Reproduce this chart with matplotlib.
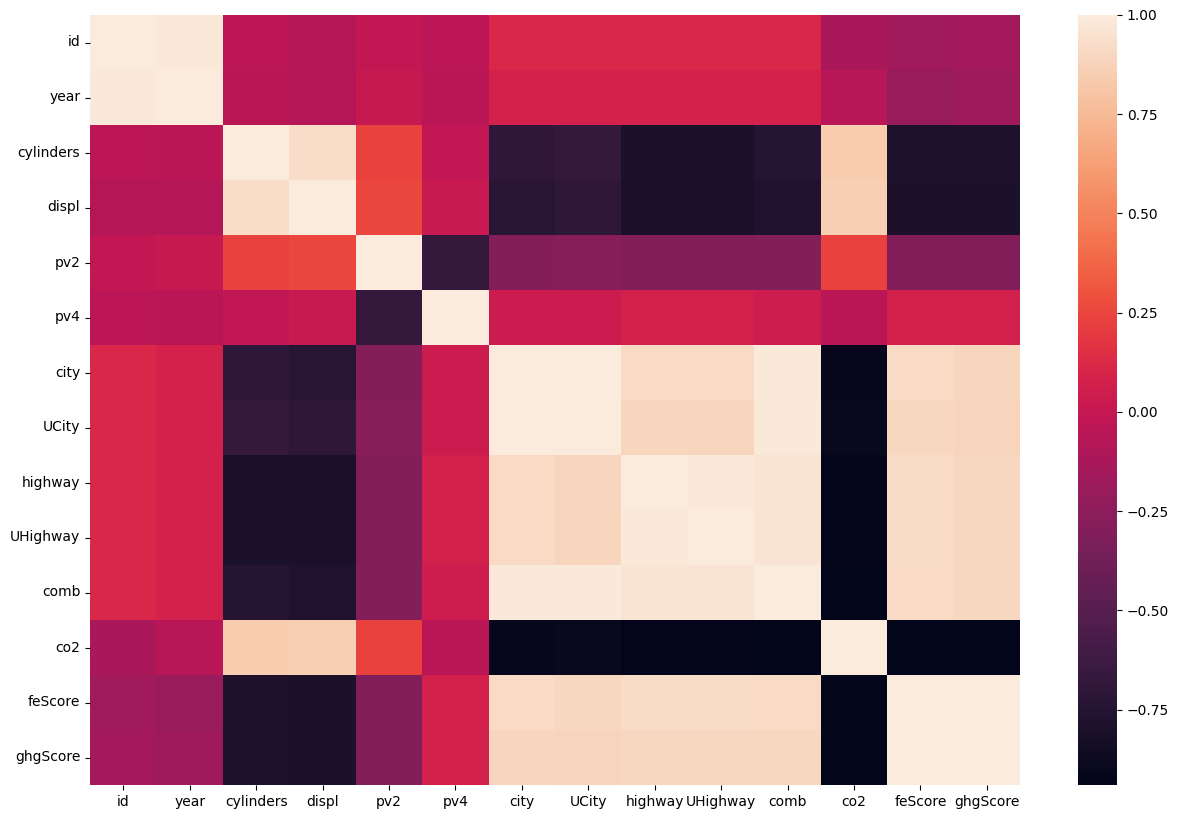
import matplotlib
matplotlib.use("Agg")
import matplotlib.pyplot as plt
import numpy as np
import pandas as pd
import seaborn as sns

columns = ["id", "year", "cylinders", "displ", "pv2", "pv4", "city", "UCity",
           "highway", "UHighway", "comb", "co2", "feScore", "ghgScore"]

# correlation values (upper triangle incl. diagonal, row by row)
corr_rows = [
    [1.00, 0.98, -0.04, -0.08, -0.01, -0.04, 0.11, 0.11, 0.11, 0.11, 0.11, -0.12, -0.16, -0.15],
    [1.00, -0.05, -0.07, 0.01, -0.05, 0.08, 0.08, 0.08, 0.08, 0.08, -0.06, -0.20, -0.18],
    [1.00, 0.93, 0.24, -0.02, -0.70, -0.67, -0.80, -0.80, -0.75, 0.84, -0.79, -0.79],
    [1.00, 0.25, 0.02, -0.73, -0.70, -0.81, -0.81, -0.78, 0.85, -0.80, -0.80],
    [1.00, -0.67, -0.29, -0.28, -0.31, -0.31, -0.30, 0.24, -0.31, -0.31],
    [1.00, 0.03, 0.03, 0.07, 0.07, 0.04, -0.05, 0.07, 0.07],
    [1.00, 0.995, 0.91, 0.91, 0.98, -0.91, 0.91, 0.89],
    [1.00, 0.89, 0.89, 0.98, -0.90, 0.90, 0.88],
    [1.00, 0.98, 0.96, -0.93, 0.92, 0.90],
    [1.00, 0.96, -0.93, 0.92, 0.90],
    [1.00, -0.94, 0.91, 0.90],
    [1.00, -0.94, -0.94],
    [1.00, 0.995],
    [1.00],
]

n = len(columns)
mat = np.zeros((n, n))
for i, row in enumerate(corr_rows):
    for k, v in enumerate(row):
        mat[i, i + k] = v
        mat[i + k, i] = v
corr = pd.DataFrame(mat, index=columns, columns=columns)

fig = plt.figure(figsize=(11.78, 8.19), dpi=100)
ax = fig.add_axes([90 / 1178, 34 / 819, 930 / 1178, 770 / 819])
cax = fig.add_axes([1078 / 1178, 34 / 819, 39 / 1178, 770 / 819])

sns.heatmap(corr, ax=ax, cbar_ax=cax)
ax.tick_params(axis="x", rotation=0)
ax.tick_params(axis="y", rotation=0)

fig.savefig("out.png", dpi=100)
